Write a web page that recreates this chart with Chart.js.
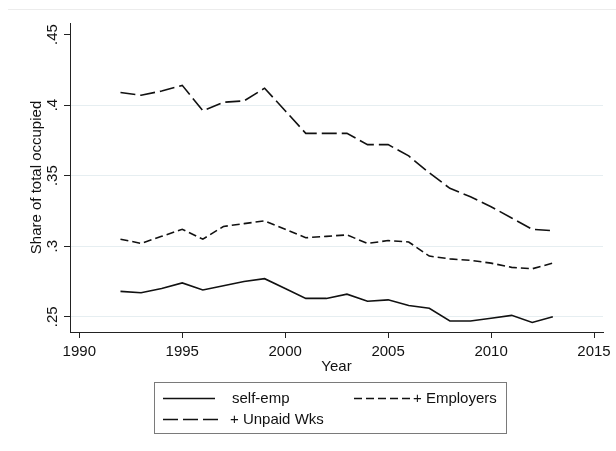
<!DOCTYPE html>
<html>
<head>
<meta charset="utf-8">
<script src="https://cdn.jsdelivr.net/npm/chart.js@4"></script>
<style>
  html, body { margin: 0; padding: 0; background: #fff; }
  #wrap { position: relative; width: 616px; height: 451px; font-family: "Liberation Sans", Arial, sans-serif; }
  #topline { position: absolute; left: 8px; top: 9px; width: 608px; height: 1px; background: #ececec; }
  #legend { position: absolute; left: 154px; top: 382px; width: 353px; height: 52px; border: 1px solid #7a7a7a; box-sizing: border-box; }
  .item { position: absolute; font-size: 15px; color: #111; white-space: nowrap; line-height: 18px; }
  .item svg { position: absolute; top: 8px; }
</style>
</head>
<body>
<div id="wrap">
  <div id="topline"></div>
  <canvas id="chart" width="616" height="451"></canvas>
  <div id="legend"></div>
</div>
<script>
const years = [1992, 1993, 1994, 1995, 1996, 1997, 1998, 1999, 2000, 2001, 2002,
               2003, 2004, 2005, 2006, 2007, 2008, 2009, 2010, 2011, 2012, 2013];
const selfEmp = [0.268, 0.267, 0.270, 0.274, 0.269, 0.272, 0.275, 0.277, 0.270, 0.263, 0.263,
                 0.266, 0.261, 0.262, 0.258, 0.256, 0.247, 0.247, 0.249, 0.251, 0.246, 0.250];
const employers = [0.305, 0.302, 0.307, 0.312, 0.305, 0.314, 0.316, 0.318, 0.312, 0.306, 0.307,
                   0.308, 0.302, 0.304, 0.303, 0.293, 0.291, 0.290, 0.288, 0.285, 0.284, 0.288];
const unpaid = [0.409, 0.407, 0.410, 0.414, 0.396, 0.402, 0.403, 0.412, 0.396, 0.380, 0.380,
                0.380, 0.372, 0.372, 0.364, 0.352, 0.341, 0.335, 0.328, 0.320, 0.312, 0.311];
const seriesLabels = ["self-emp", "+ Employers", "+ Unpaid Wks"];
const xTicks = [1990, 1995, 2000, 2005, 2010, 2015];
const yTicks = [0.25, 0.30, 0.35, 0.40, 0.45];

const FONT = "'Liberation Sans', Arial, sans-serif";
const dashes = [[], [8, 4], [15, 5]];

function pts(vals) { return years.map((y, i) => ({ x: y, y: vals[i] })); }

const datasets = [selfEmp, employers, unpaid].map((vals, i) => ({
  label: seriesLabels[i],
  data: pts(vals),
  borderColor: "#111",
  borderWidth: 1.6,
  borderDash: dashes[i],
  pointRadius: 0,
  tension: 0,
  fill: false
}));

const chart = new Chart(document.getElementById("chart").getContext("2d"), {
  type: "line",
  data: { datasets },
  options: {
    responsive: false,
    animation: false,
    devicePixelRatio: 1,
    layout: { padding: { top: 23, right: 13, left: 0, bottom: 0 } },
    plugins: { legend: { display: false }, tooltip: { enabled: false } },
    scales: {
      x: {
        type: "linear",
        min: 1989.548,
        max: 2015.437,
        afterBuildTicks: (s) => { s.ticks = xTicks.map((v) => ({ value: v })); },
        afterFit: (s) => { s.height = 119; },
        grid: { drawOnChartArea: false, tickLength: 6, tickColor: "#222", lineWidth: 1 },
        border: { display: true, color: "#222", width: 1 },
        ticks: { color: "#111", font: { family: FONT, size: 15 }, padding: 4.5, maxRotation: 0,
                 callback: (v) => String(v) },
        title: { display: true, text: "Year", color: "#111", font: { family: FONT, size: 15 },
                 padding: { top: 0, bottom: 75.5 } }
      },
      y: {
        type: "linear",
        min: 0.2392,
        max: 0.4582,
        afterBuildTicks: (s) => { s.ticks = yTicks.map((v) => ({ value: v })); },
        afterFit: (s) => { s.width = 70; },
        grid: {
          color: (c) => (c.tick && c.tick.value >= 0.449 ? "rgba(0,0,0,0)" : "#e6eef1"),
          tickColor: "#222",
          tickLength: 6,
          lineWidth: 1
        },
        border: { display: true, color: "#222", width: 1 },
        ticks: {
          color: "#111",
          font: { family: FONT, size: 15 },
          minRotation: 90,
          maxRotation: 90,
          crossAlign: "center",
          padding: 0.6,
          callback: (v) => String(+v.toFixed(2)).replace(/^0\./, ".")
        },
        title: { display: true, text: "Share of total occupied", color: "#111",
                 font: { family: FONT, size: 15 }, padding: { top: 27.5, bottom: 0 } }
      }
    }
  }
});

// legend built from the chart's datasets
const legendPos = [
  { sx: 8, y: 6, sw: 52, tx: 77 },
  { sx: 199, y: 6, sw: 56, tx: 258 },
  { sx: 8, y: 27, sw: 56, tx: 75 }
];
const legend = document.getElementById("legend");
chart.data.datasets.forEach((ds, i) => {
  const p = legendPos[i];
  const item = document.createElement("div");
  item.className = "item";
  item.style.left = p.sx + "px";
  item.style.top = p.y + "px";
  const dash = ds.borderDash.length ? ds.borderDash.join(" ") : "none";
  item.innerHTML =
    '<svg width="' + p.sw + '" height="3" style="left:0"><line x1="0" y1="1.5" x2="' + p.sw +
    '" y2="1.5" stroke="#111" stroke-width="1.6" stroke-dasharray="' + dash + '"/></svg>' +
    '<span style="position:absolute;left:' + (p.tx - p.sx) + 'px;top:0">' + ds.label + '</span>';
  legend.appendChild(item);
});
</script>
</body>
</html>
